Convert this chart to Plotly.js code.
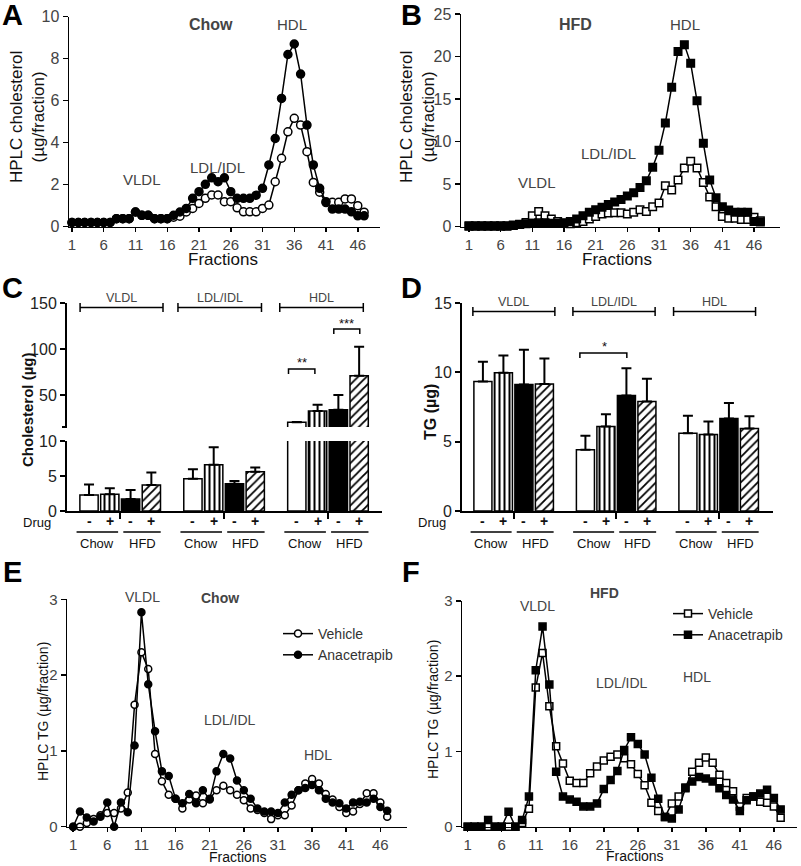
<!DOCTYPE html>
<html>
<head>
<meta charset="utf-8">
<script src="https://cdn.plot.ly/plotly-3.0.1.min.js"></script>
<style>
  html, body { margin: 0; padding: 0; background: #fff; }
  #chart { width: 801px; height: 866px; }
</style>
</head>
<body>
<div id="chart"></div>
<script>
// ---- data ----
const fractions = [1,2,3,4,5,6,7,8,9,10,11,12,13,14,15,16,17,18,19,20,21,22,23,24,25,26,27,28,29,30,
                   31,32,33,34,35,36,37,38,39,40,41,42,43,44,45,46,47];
const fractionTicks = [1, 6, 11, 16, 21, 26, 31, 36, 41, 46];

// A: HPLC cholesterol, chow
const cholChowVehicle = [0.2,0.2,0.2,0.2,0.2,0.2,0.2,0.38,0.38,0.38,0.7,0.54,0.54,0.38,0.38,0.38,
  0.45,0.5,0.7,0.87,1.11,1.35,1.51,1.51,1.19,1.19,0.9,0.71,0.71,0.71,0.87,1.03,2.14,3.26,4.52,5.16,
  4.84,3.57,2.11,1.64,1.15,1.16,1.16,1.32,1.32,1.0,0.69];
const cholChowAnacetrapib = [0.2,0.2,0.2,0.2,0.2,0.2,0.2,0.38,0.38,0.38,0.7,0.54,0.54,0.38,0.38,0.38,
  0.54,0.7,0.87,1.35,1.67,2.02,2.33,2.14,2.33,1.67,1.35,1.35,1.35,1.5,1.83,2.94,4.2,6.11,8.2,8.7,
  7.27,4.84,2.94,1.83,1.19,0.84,0.84,0.84,0.71,0.52,0.52];

// B: HPLC cholesterol, HFD
const cholHfdVehicle = [0.05,0.05,0.05,0.05,0.05,0.05,0.05,0.15,0.25,0.5,1.3,1.8,1.3,0.9,0.6,0.4,
  0.35,0.45,0.6,0.9,1.2,1.5,1.6,1.65,1.65,1.5,1.7,2.0,1.8,2.35,2.8,4.8,4.3,5.5,6.9,7.7,
  6.9,5.2,3.5,2.35,1.2,1.0,1.0,0.85,0.85,1.1,0.7];
const cholHfdAnacetrapib = [0.1,0.1,0.1,0.1,0.1,0.1,0.1,0.2,0.3,0.35,0.4,0.45,0.45,0.4,0.4,0.45,
  0.6,0.9,1.3,1.7,2.0,2.3,2.6,2.9,3.2,3.6,4.0,4.6,5.4,7.0,9.0,12.2,16.4,20.6,21.4,19.2,
  14.8,9.8,5.5,3.4,2.35,1.95,1.7,1.7,1.7,0.6,0.55];

// E: HPLC TG, chow
const tgChowVehicle = [0,0,0.05,0.1,0.15,0.18,0.18,0.24,0.45,1.61,2.3,2.08,0.96,0.6,0.42,0.37,
  0.24,0.36,0.41,0.31,0.37,0.48,0.54,0.48,0.42,0.35,0.24,0.22,0.18,0.1,0.15,0.15,0.28,0.48,0.57,0.63,
  0.57,0.43,0.36,0.26,0.18,0.2,0.3,0.44,0.44,0.32,0.13];
const tgChowAnacetrapib = [0,0.2,0.12,0.07,0.13,0.32,0,0.32,0.19,1.07,2.83,1.88,1.26,0.73,0.67,0.37,
  0.31,0.43,0.31,0.48,0.36,0.73,0.96,0.9,0.61,0.48,0.37,0.24,0.2,0.2,0.18,0.32,0.42,0.48,0.51,0.55,
  0.48,0.37,0.32,0.31,0.24,0.32,0.33,0.32,0.37,0.26,0.21];

// F: HPLC TG, HFD
const tgHfdVehicle = [0,0,0,0,0,0,0,0,0.05,0.24,1.85,2.31,1.6,1.07,0.84,0.61,
  0.58,0.58,0.71,0.8,0.88,0.93,0.96,0.91,0.83,0.7,0.55,0.32,0.21,0.13,0.31,0.4,0.52,0.73,0.85,0.92,
  0.85,0.69,0.58,0.47,0.27,0.38,0.4,0.33,0.32,0.27,0.12];
const tgHfdAnacetrapib = [0,0,0,0.09,0,0,0.2,0,0.09,0.4,2.08,2.66,1.89,0.73,0.4,0.36,
  0.33,0.27,0.27,0.31,0.5,0.62,0.74,1.02,1.19,1.1,0.96,0.65,0.37,0.13,0.11,0.23,0.51,0.6,0.66,0.64,
  0.6,0.51,0.42,0.36,0.21,0.35,0.4,0.44,0.49,0.38,0.23];

// C / D: lipoprotein class totals (mean and upper SD)
const lipoClasses = ['VLDL', 'LDL/IDL', 'HDL'];
const drugSigns = ['-', '+', '-', '+'];
const dietLabels = ['Chow', 'HFD'];

const cholChowVeh = [2.3, 4.6, 20.3];
const cholChowDrug = [2.4, 6.6, 32.6];
const cholHfdVeh = [1.7, 3.9, 34];
const cholHfdDrug = [3.7, 5.6, 71];
const cholChowVehSd = [1.5, 1.35, 0.3];
const cholChowDrugSd = [0.85, 2.5, 6.9];
const cholHfdVehSd = [1.3, 0.4, 16];
const cholHfdDrugSd = [1.8, 0.6, 31.5];

const tgChowVeh = [9.34, 4.41, 5.61];
const tgChowDrug = [9.97, 6.09, 5.51];
const tgHfdVeh = [9.13, 8.33, 6.67];
const tgHfdDrug = [9.15, 7.9, 5.95];
const tgChowVehSd = [1.42, 1.01, 1.25];
const tgChowDrugSd = [1.25, 0.89, 0.94];
const tgHfdVehSd = [2.5, 1.97, 1.11];
const tgHfdDrugSd = [1.85, 1.64, 0.89];

// ---- helpers ----
const W = 801, H = 866;
const px = x => x / W;
const py = y => 1 - y / H;
const FONT = 'Liberation Sans, Arial, sans-serif';

function lineTrace(y, symbol, filled, xa, ya, size, extra) {
    return Object.assign({
        type: 'scatter', mode: 'lines+markers', x: fractions, y: y,
        xaxis: xa, yaxis: ya, showlegend: false, cliponaxis: false,
        line: { color: '#000', width: 1.5 },
        marker: { symbol: symbol, size: size, color: filled ? '#000' : '#fff', line: { color: '#000', width: 1.5 } }
    }, extra || {});
}

const barStyles = [
    { slot: 0, color: '#fff', pattern: { shape: '' } },
    { slot: 1, color: '#fff', pattern: { shape: '|', fgcolor: '#000', bgcolor: '#fff', size: 5, solidity: 0.4 } },
    { slot: 2, color: '#000', pattern: { shape: '' } },
    { slot: 3, color: '#fff', pattern: { shape: '/', fgcolor: '#000', bgcolor: '#fff', size: 6, solidity: 0.3 } }
];

function barTrace(vals, sd, style, xa, ya) {
    return {
        type: 'bar', x: lipoClasses.map((_, g) => g * 5 + style.slot), y: vals,
        xaxis: xa, yaxis: ya, width: 0.88, showlegend: false,
        marker: { color: style.color, line: { color: '#000', width: 1.5 }, pattern: style.pattern },
        error_y: { type: 'data', symmetric: false, array: sd, arrayminus: sd.map(() => 0),
                   color: '#000', thickness: 2, width: 5 }
    };
}

// ---- traces ----
const traces = [
    lineTrace(cholChowVehicle, 'circle', false, 'x', 'y', 8),
    lineTrace(cholChowAnacetrapib, 'circle', true, 'x', 'y', 8),
    lineTrace(cholHfdVehicle, 'square', false, 'x2', 'y2', 7.5),
    lineTrace(cholHfdAnacetrapib, 'square', true, 'x2', 'y2', 7.5),
    lineTrace(tgChowVehicle, 'circle', false, 'x5', 'y6', 7,
        { name: 'Vehicle', showlegend: true, legend: 'legend', legendrank: 1 }),
    lineTrace(tgChowAnacetrapib, 'circle', true, 'x5', 'y6', 7,
        { name: 'Anacetrapib', showlegend: true, legend: 'legend', legendrank: 2 }),
    lineTrace(tgHfdVehicle, 'square', false, 'x6', 'y7', 7,
        { name: 'Vehicle', showlegend: true, legend: 'legend2', legendrank: 1 }),
    lineTrace(tgHfdAnacetrapib, 'square', true, 'x6', 'y7', 7,
        { name: 'Anacetrapib', showlegend: true, legend: 'legend2', legendrank: 2 })
];

const cholSets = [[cholChowVeh, cholChowVehSd], [cholChowDrug, cholChowDrugSd],
                  [cholHfdVeh, cholHfdVehSd], [cholHfdDrug, cholHfdDrugSd]];
const tgSets = [[tgChowVeh, tgChowVehSd], [tgChowDrug, tgChowDrugSd],
                [tgHfdVeh, tgHfdVehSd], [tgHfdDrug, tgHfdDrugSd]];
cholSets.forEach((s, i) => {
    traces.push(barTrace(s[0], s[1], barStyles[i], 'x3', 'y3'));
    traces.push(barTrace(s[0], s[1], barStyles[i], 'x3', 'y4'));
});
tgSets.forEach((s, i) => traces.push(barTrace(s[0], s[1], barStyles[i], 'x4', 'y5')));

// ---- axes ----
function ax(extra, lw, fsize, fcolor) {
    return Object.assign({
        showline: true, linecolor: '#000', linewidth: lw, mirror: false,
        ticks: 'outside', ticklen: 5, tickwidth: lw, tickcolor: '#000',
        showgrid: false, zeroline: false, fixedrange: true,
        tickfont: { family: FONT, size: fsize, color: fcolor }
    }, extra);
}

const layout = {
    width: W, height: H, autosize: false,
    margin: { l: 0, r: 0, t: 0, b: 0 },
    paper_bgcolor: '#fff', plot_bgcolor: 'rgba(0,0,0,0)',
    font: { family: FONT, color: '#000' },
    barmode: 'overlay',
    // A
    xaxis: ax({ domain: [px(69), px(380)], range: [0.53, 49.5], tickvals: fractionTicks, anchor: 'y',
                ticklen: 4 }, 1.5, 15, '#444'),
    yaxis: ax({ domain: [py(226.7), py(16.7)], range: [0, 10], dtick: 2, anchor: 'x' }, 1.5, 16, '#444'),
    // B
    xaxis2: ax({ domain: [px(461), px(780)], range: [-0.26, 50.1], tickvals: fractionTicks, anchor: 'y2',
                 ticklen: 4 }, 1.5, 15, '#444'),
    yaxis2: ax({ domain: [py(226.7), py(14)], range: [0, 25], dtick: 5, anchor: 'x2' }, 1.5, 16, '#444'),
    // C (broken y axis)
    xaxis3: ax({ domain: [px(67), px(382)], range: [-1.06, 14.1], tickvals: [1.5, 6.5, 11.5],
                 showticklabels: false, ticklen: 6, anchor: 'y3' }, 2, 15, '#222'),
    yaxis3: ax({ domain: [py(511), py(441)], range: [0, 10], tickvals: [0, 5, 10], anchor: 'x3' }, 2, 16, '#222'),
    yaxis4: ax({ domain: [py(427), py(303)], range: [15.2, 150], tickvals: [50, 100, 150], anchor: 'x3' }, 2, 16, '#222'),
    // D
    xaxis4: ax({ domain: [px(462), px(773)], range: [-1.02, 14.15], tickvals: [1.5, 6.5, 11.5],
                 showticklabels: false, ticklen: 6, anchor: 'y5' }, 2, 15, '#222'),
    yaxis5: ax({ domain: [py(511), py(303)], range: [0, 15], tickvals: [0, 5, 10, 15], anchor: 'x4' }, 2, 16, '#222'),
    // E
    xaxis5: ax({ domain: [px(67), px(407)], range: [0.1, 49.9], tickvals: fractionTicks, anchor: 'y6',
                 ticklen: 4 }, 1.5, 15, '#444'),
    yaxis6: ax({ domain: [py(826.7), py(599.3)], range: [0, 3], dtick: 1, anchor: 'x5' }, 1.5, 15, '#444'),
    // F
    xaxis6: ax({ domain: [px(462), px(797)], range: [0.16, 49.4], tickvals: fractionTicks, anchor: 'y7',
                 ticklen: 4 }, 1.5, 15, '#444'),
    yaxis7: ax({ domain: [py(826.7), py(601)], range: [0, 3], dtick: 1, anchor: 'x6' }, 1.5, 15, '#444'),
    legend: { x: px(278), y: py(618), xanchor: 'left', yanchor: 'top', bgcolor: 'rgba(0,0,0,0)',
              font: { family: FONT, size: 14, color: '#333' }, itemwidth: 30, tracegroupgap: 0 },
    legend2: { x: px(668), y: py(598), xanchor: 'left', yanchor: 'top', bgcolor: 'rgba(0,0,0,0)',
               font: { family: FONT, size: 14, color: '#333' }, itemwidth: 30, tracegroupgap: 0 },
    annotations: [],
    shapes: []
};

// ---- text ----
function txt(text, x, y, size, opts) {
    layout.annotations.push(Object.assign({
        text: text, x: px(x), y: py(y), xref: 'paper', yref: 'paper',
        xanchor: 'center', yanchor: 'middle', showarrow: false,
        font: { family: FONT, size: size, color: '#444' }
    }, opts || {}));
}

// panel letters
[['A', 12, 15], ['B', 411, 15], ['C', 12, 288], ['D', 411, 288], ['E', 12, 572], ['F', 411, 572]]
    .forEach(l => txt('<b>' + l[0] + '</b>', l[1], l[2], 29, { font: { family: FONT, size: 29, color: '#000' } }));

// axis titles
const titleFont = (s, c) => ({ family: FONT, size: s, color: c || '#111' });
txt('HPLC cholesterol<br>(µg/fraction)', 27, 117, 17, { textangle: -90, font: titleFont(17) });
txt('HPLC cholesterol<br>(µg/fraction)', 417, 117, 17, { textangle: -90, font: titleFont(17) });
txt('Fractions', 223, 259, 17, { font: titleFont(17) });
txt('Fractions', 617, 259, 17, { font: titleFont(17) });
txt('<b>Cholesterol (µg)</b>', 27, 410, 15, { textangle: -90, font: titleFont(15) });
txt('<b>TG (µg)</b>', 431, 412, 16, { textangle: -90, font: titleFont(16) });
txt('HPLC TG (µg/fraction)', 43, 712, 14, { textangle: -90, font: titleFont(14) });
txt('HPLC TG (µg/fraction)', 433, 710, 14, { textangle: -90, font: titleFont(14) });
txt('Fractions', 238, 857, 14, { font: titleFont(14) });
txt('Fractions', 635, 856, 14, { font: titleFont(14) });

// region labels in A, B, E, F
txt('<b>Chow</b>', 211, 24, 16);
txt('HDL', 292, 25, 15);
txt('LDL/IDL', 217, 167, 15);
txt('VLDL', 142, 180, 15);
txt('<b>HFD</b>', 575, 25, 16);
txt('HDL', 685, 25, 15);
txt('LDL/IDL', 608, 153, 15);
txt('VLDL', 537, 182, 15);
txt('VLDL', 142, 597, 14);
txt('<b>Chow</b>', 220, 598, 14);
txt('LDL/IDL', 230, 720, 14);
txt('HDL', 318, 755, 14);
txt('VLDL', 537, 606, 14);
txt('<b>HFD</b>', 604, 593, 14);
txt('LDL/IDL', 622, 683, 14);
txt('HDL', 697, 677, 14);

// ---- brackets and group rows for C and D ----
function hline(xref, x0, x1, yPx, tick, down) {
    const y0 = py(yPx);
    if (tick) {
        const t = tick / H;
        layout.shapes.push({ type: 'path', xref: xref, yref: 'paper',
            path: down
                ? `M${x0},${y0 - t} L${x0},${y0} L${x1},${y0} L${x1},${y0 - t}`
                : `M${x0},${y0 - t} L${x0},${y0 + t} M${x0},${y0} L${x1},${y0} M${x1},${y0 - t} L${x1},${y0 + t}`,
            line: { color: '#000', width: 1.5 } });
    } else {
        layout.shapes.push({ type: 'line', xref: xref, yref: 'paper', x0: x0, x1: x1, y0: y0, y1: y0,
            line: { color: '#000', width: 1.5 } });
    }
}

function xToPx(xref, v) {
    const a = xref === 'x3' ? { d0: 67, d1: 382, r0: -1.06, r1: 14.1 } : { d0: 462, d1: 773, r0: -1.02, r1: 14.15 };
    return a.d0 + (v - a.r0) / (a.r1 - a.r0) * (a.d1 - a.d0);
}

function panelRows(xref, bracketY, labelY, bracketSpans, drugX) {
    bracketSpans.forEach((sp, g) => {
        hline(xref, sp[0], sp[1], bracketY, 4.5, false);
        txt(lipoClasses[g], xToPx(xref, (sp[0] + sp[1]) / 2), labelY, 12.5);
        drugSigns.forEach((s, i) => txt('<b>' + s + '</b>', xToPx(xref, g * 5 + i), 521, 14,
            { font: { family: FONT, size: 14, color: '#111' } }));
        hline(xref, g * 5 - 0.6, g * 5 + 1.4, 532);
        hline(xref, g * 5 + 1.65, g * 5 + 3.45, 532);
        txt(dietLabels[0], xToPx(xref, g * 5 + 0.4), 543, 13, { font: { family: FONT, size: 13, color: '#111' } });
        txt(dietLabels[1], xToPx(xref, g * 5 + 2.55), 543, 13, { font: { family: FONT, size: 13, color: '#111' } });
    });
    txt('Drug', drugX, 522, 13, { font: { family: FONT, size: 13, color: '#111' } });
}

panelRows('x3', 307.5, 298, [[-0.43, 3.56], [4.28, 8.3], [9.18, 13.2]], 37);
panelRows('x4', 311.5, 301.5, [[-0.49, 3.51], [4.39, 8.4], [9.3, 13.3]], 432);

// significance
hline('x3', 9.6, 10.87, 369, 5, true);
txt('**', xToPx('x3', 10.23), 363, 13, { font: { family: FONT, size: 13, color: '#111' } });
hline('x3', 11.78, 13.03, 329, 5, true);
txt('***', xToPx('x3', 12.4), 323, 13, { font: { family: FONT, size: 13, color: '#111' } });
hline('x4', 4.73, 7.02, 353, 5, true);
txt('*', 604, 347, 13, { font: { family: FONT, size: 13, color: '#111' } });

// break mark on C's y axis
layout.shapes.push({ type: 'line', xref: 'paper', yref: 'paper', x0: px(62), x1: px(67), y0: py(427), y1: py(427),
    line: { color: '#000', width: 2 } });

Plotly.newPlot('chart', traces, layout, { staticPlot: true, displayModeBar: false });
</script>
</body>
</html>
